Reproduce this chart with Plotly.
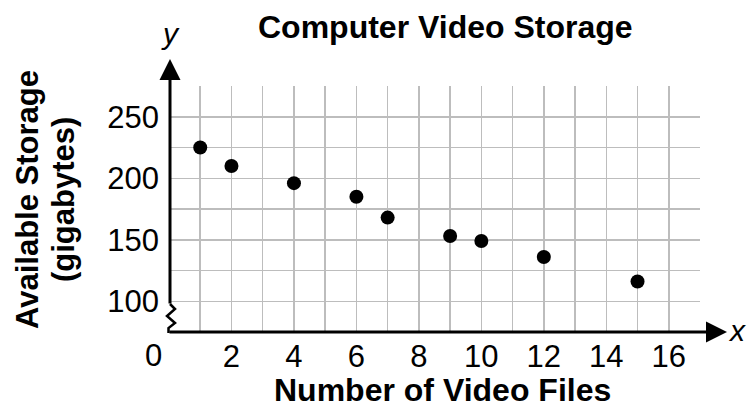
import plotly.graph_objects as go

# ---- data ----
video_files = [1, 2, 4, 6, 7, 9, 10, 12, 15]
storage_gb = [225, 210, 196, 185, 168, 153, 149, 136, 116]

x_tick_vals = list(range(0, 18))
x_tick_text = ["" if (v % 2 == 1 or v == 0) else str(v) for v in x_tick_vals]
y_tick_vals = list(range(75, 300, 25))
y_tick_text = [str(v) if v in (100, 150, 200, 250) else "" for v in y_tick_vals]

title_text = "Computer Video Storage"
x_title = "Number of Video Files"
y_title_lines = ["Available Storage", "(gigabytes)"]

# ---- layout geometry ----
W, H = 747, 410
ML, MR, MT, MB = 169, 47, 86, 78
PW = W - ML - MR
PH = H - MT - MB

def px(xp):
    """page x pixel -> paper coordinate"""
    return (xp - ML) / PW

def py(yp):
    """page y pixel -> paper coordinate"""
    return (H - MB - yp) / PH

FONT = "Liberation Sans, Arial, Helvetica, sans-serif"

fig = go.Figure()
fig.add_trace(go.Scatter(
    x=video_files, y=storage_gb, mode="markers",
    marker=dict(size=14, color="black"),
    cliponaxis=False, showlegend=False,
))

fig.update_layout(
    width=W, height=H,
    margin=dict(l=ML, r=MR, t=MT, b=MB, pad=0),
    paper_bgcolor="white", plot_bgcolor="white",
    font=dict(family=FONT, color="black", size=31),
    xaxis=dict(
        range=[0, 17], tickmode="array", tickvals=x_tick_vals, ticktext=x_tick_text,
        showgrid=True, gridcolor="#bdbdbd", gridwidth=1.5,
        zeroline=False, showline=False, ticks="", ticklabelstandoff=3,
        tickfont=dict(size=31), fixedrange=True,
    ),
    yaxis=dict(
        range=[75, 275], tickmode="array", tickvals=y_tick_vals, ticktext=y_tick_text,
        showgrid=True, gridcolor="#bdbdbd", gridwidth=1.5,
        zeroline=False, showline=False, ticks="", ticklabelstandoff=9,
        tickfont=dict(size=31), fixedrange=True,
    ),
)

ann = []
ann.append(dict(text=f"<b>{title_text}</b>", x=px(445), y=py(27), xref="paper", yref="paper",
                showarrow=False, font=dict(size=32), xanchor="center", yanchor="middle"))
ann.append(dict(text=f"<b>{x_title}</b>", x=px(442), y=py(390), xref="paper", yref="paper",
                showarrow=False, font=dict(size=32), xanchor="center", yanchor="middle"))
for txt, xc in zip(y_title_lines, [27, 63]):
    ann.append(dict(text=f"<b>{txt}</b>", x=px(xc), y=py(200), xref="paper", yref="paper",
                    showarrow=False, font=dict(size=31), textangle=-90,
                    xanchor="center", yanchor="middle"))
ann.append(dict(text="0", x=px(153), y=py(355), xref="paper", yref="paper",
                showarrow=False, font=dict(size=31), xanchor="center", yanchor="middle"))
ann.append(dict(text="<i>y</i>", x=px(170), y=py(34), xref="paper", yref="paper",
                showarrow=False, font=dict(size=30), xanchor="center", yanchor="middle"))
ann.append(dict(text="<i>x</i>", x=px(737), y=py(330), xref="paper", yref="paper",
                showarrow=False, font=dict(size=30), xanchor="center", yanchor="middle"))
# axis arrows (offsets in pixels from tip to tail)
ann.append(dict(x=px(170), y=py(59), ax=0, ay=246, xref="paper", yref="paper",
                axref="pixel", ayref="pixel", showarrow=True, arrowhead=2, arrowsize=1.4,
                arrowwidth=3, arrowcolor="black", text="", standoff=0, startstandoff=0))
ann.append(dict(x=px(727), y=py(332), ax=-559, ay=0, xref="paper", yref="paper",
                axref="pixel", ayref="pixel", showarrow=True, arrowhead=2, arrowsize=1.4,
                arrowwidth=3, arrowcolor="black", text="", standoff=0, startstandoff=0))
fig.update_layout(annotations=ann)

# axis break zigzag
pts = [(170, 304), (175, 309), (167, 316), (175, 323), (168.5, 328), (168.5, 333)]
path = "M " + " L ".join(f"{px(a):.5f},{py(b):.5f}" for a, b in pts)
fig.add_shape(type="path", path=path, xref="paper", yref="paper",
              line=dict(color="black", width=2.5))

# remove the page's default 8px body margin so the figure fills the window exactly
fig.write_html("out.html", config={"displayModeBar": False, "staticPlot": True},
               post_script="document.body.style.margin='0';")
